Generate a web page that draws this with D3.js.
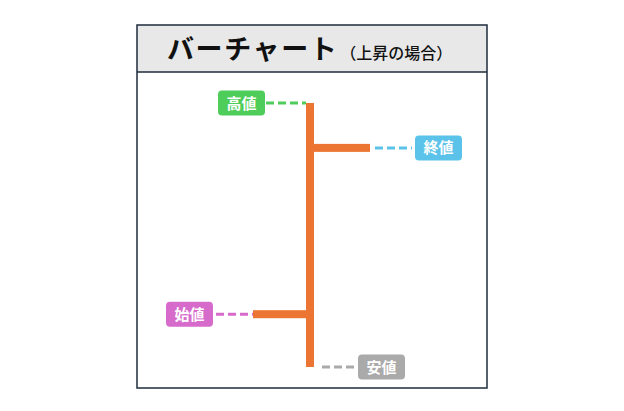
<!DOCTYPE html>
<html><head><meta charset="utf-8">
<script src="https://cdn.jsdelivr.net/npm/d3@7"></script>
<style>body{margin:0;background:#fff;}svg{display:block;}</style>
</head><body>
<script>
const labels = ["高値","終値","始値","安値"];
const values = [100, 83, 20, 0];
const sides = ["left","right","left","right"];
const colors = ["#4fcd5a","#5bc2ea","#d66bcc","#aaaaaa"];
const titleMain = "バーチャート";
const titleSub = "（上昇の場合）";

const W = 624, H = 411;
const svg = d3.select("body").append("svg").attr("width", W).attr("height", H);
const font = "'Noto Sans CJK JP', 'Noto Sans', sans-serif";

// frame
const fx = 137, fy = 25, fw = 350, fh = 363, hh = 47;
svg.append("rect").attr("x", fx).attr("y", fy).attr("width", fw).attr("height", hh)
  .attr("fill", "#e8e8e8");
svg.append("line").attr("x1", fx).attr("x2", fx+fw).attr("y1", fy+hh).attr("y2", fy+hh)
  .attr("stroke", "#1f2d3d").attr("stroke-width", 1.5);
svg.append("rect").attr("x", fx).attr("y", fy).attr("width", fw).attr("height", fh)
  .attr("fill", "none").attr("stroke", "#1f2d3d").attr("stroke-width", 1.5);

const t = svg.append("text").attr("x", 167).attr("y", 59).attr("font-family", font);
t.append("tspan").text(titleMain).attr("font-size", 27).attr("font-weight", 700)
  .attr("letter-spacing", 1.6).attr("fill", "#111");
t.append("tspan").text(titleSub).attr("font-size", 16).attr("font-weight", 500)
  .attr("dx", 2).attr("fill", "#111");

const y = d3.scaleLinear().domain([0, 100]).range([367, 103]);
const cx = 310, barW = 8, tickLen = 58;
const orange = "#ec7534";

const hi = d3.max(values), lo = d3.min(values);
svg.append("rect").attr("x", cx - barW/2).attr("y", y(hi)).attr("width", barW)
  .attr("height", y(lo) - y(hi)).attr("fill", orange);
// open (left tick) & close (right tick)
const openV = values[2], closeV = values[1];
svg.append("rect").attr("x", cx - barW/2 - tickLen + 5).attr("y", y(openV) - 4)
  .attr("width", tickLen).attr("height", 8).attr("fill", orange);
svg.append("rect").attr("x", cx).attr("y", y(closeV) - 4)
  .attr("width", tickLen + 2).attr("height", 8).attr("fill", orange);

// labels
const boxW = 47, boxH = 25;
labels.forEach((lab, i) => {
  const v = values[i], yy = y(v);
  let lineX1, lineX2, boxX;
  if (i === 0) { lineX1 = 266; lineX2 = cx - barW/2; boxX = 218; }
  else if (i === 1) { lineX1 = 375; lineX2 = 412; boxX = 415; }
  else if (i === 2) { lineX1 = 216; lineX2 = 253; boxX = 166; }
  else { lineX1 = 322; lineX2 = 357; boxX = 358; }
  svg.append("line").attr("x1", lineX1).attr("x2", lineX2).attr("y1", yy).attr("y2", yy)
    .attr("stroke", colors[i]).attr("stroke-width", 3).attr("stroke-dasharray", "8,4");
  svg.append("rect").attr("x", boxX).attr("y", yy - boxH/2).attr("width", boxW)
    .attr("height", boxH).attr("rx", 4).attr("fill", colors[i]);
  svg.append("text").attr("x", boxX + boxW/2).attr("y", yy + 5.5).attr("text-anchor", "middle")
    .attr("font-family", font).attr("font-size", 15).attr("font-weight", 700)
    .attr("fill", "#fff").text(lab);
});
</script>
</body></html>
